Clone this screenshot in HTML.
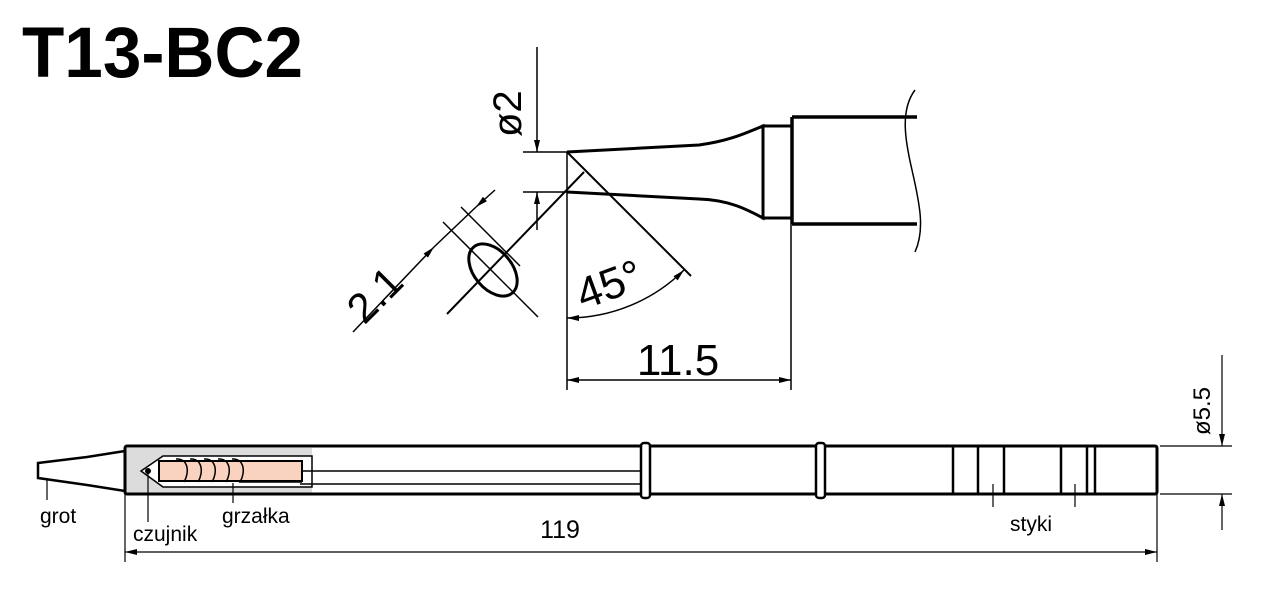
<!DOCTYPE html>
<html><head><meta charset="utf-8"><style>
html,body{margin:0;padding:0;background:#fff;}
svg{display:block;font-family:"Liberation Sans",Arial,sans-serif;}
</style></head><body>
<svg width="1266" height="600" viewBox="0 0 1266 600" xmlns="http://www.w3.org/2000/svg">
<defs>
<marker id="a" viewBox="0 0 12 6" refX="12" refY="3" markerWidth="12" markerHeight="6" markerUnits="userSpaceOnUse" orient="auto-start-reverse"><path d="M0,0 L12,3 L0,6 z" fill="#000"/></marker>
</defs>
<text x="22" y="77" font-size="71" font-weight="bold" textLength="281" lengthAdjust="spacingAndGlyphs">T13-BC2</text>

<g stroke="#000" fill="none">
<path d="M567,152 L699,145 C730,141 748,132 763,126 L763,218 C748,210 730,200 699,199 L567,192" stroke-width="3"/>
<rect x="763" y="126" width="29" height="92" stroke-width="3"/>
<path d="M792,117 L917,117 M792,224 L917,224 M792,117 L792,224" stroke-width="3.5"/>
<path d="M915,90 C900,110 905,140 912,170 C920,205 925,230 915,252" stroke-width="1.5"/>
<line x1="537" y1="47" x2="537" y2="152" stroke-width="1.5" marker-end="url(#a)"/>
<line x1="537" y1="230" x2="537" y2="192" stroke-width="1.5" marker-end="url(#a)"/>
<line x1="523" y1="152" x2="567" y2="152" stroke-width="1.5"/>
<line x1="523" y1="192" x2="567" y2="192" stroke-width="1.5"/>
<line x1="567" y1="152" x2="691" y2="276" stroke-width="2"/>
<line x1="584" y1="172" x2="447" y2="314" stroke-width="2"/>
<line x1="567" y1="152" x2="567" y2="390" stroke-width="1.5"/>
<path d="M567,318 A166,166 0 0 0 684,270" stroke-width="1.5" marker-start="url(#a)" marker-end="url(#a)"/>
<ellipse cx="493" cy="270" rx="30" ry="19" transform="rotate(50 493 270)" stroke-width="3"/>
<line x1="443" y1="222" x2="538" y2="317" stroke-width="1.5"/>
<line x1="461" y1="207" x2="520" y2="266" stroke-width="1.5"/>
<line x1="353" y1="332" x2="434" y2="247" stroke-width="1.5" marker-end="url(#a)"/>
<line x1="495" y1="190" x2="476" y2="207" stroke-width="1.5" marker-end="url(#a)"/>
<line x1="434" y1="247" x2="476" y2="207" stroke-width="1.5"/>
<line x1="791" y1="224" x2="791" y2="390" stroke-width="1.5"/>
<line x1="567" y1="380" x2="791" y2="380" stroke-width="1.5" marker-start="url(#a)" marker-end="url(#a)"/>
</g>
<text x="678" y="375" font-size="44" text-anchor="middle">11.5</text>
<text transform="translate(583,310) rotate(-20)" font-size="44">45°</text>
<text transform="translate(521,137) rotate(-90)" font-size="40">ø2</text>
<text transform="translate(385,305) rotate(-45)" font-size="42" text-anchor="middle">2.1</text>

<path d="M125,451 L87,457 L38,463 L38,478 L87,485 L125,491" fill="none" stroke="#000" stroke-width="2.5"/>
<rect x="126" y="448" width="186" height="45" fill="#dcdcdc"/>
<path d="M141,471 L163,456 L312,456 L312,487 L163,487 Z" fill="#fff" stroke="#000" stroke-width="1.5"/>
<line x1="300" y1="471" x2="642" y2="471" stroke="#000" stroke-width="1.5"/>
<line x1="300" y1="484" x2="642" y2="484" stroke="#000" stroke-width="1.5"/>
<rect x="159" y="461" width="143" height="20" fill="#f9d3bf" stroke="#000" stroke-width="2"/>
<g fill="none" stroke="#000" stroke-width="1.5">
<path d="M176,459 C188,458 190,472 184,482"/>
<path d="M190,459 C202,458 204,472 198,482"/>
<path d="M204,459 C216,458 218,472 212,482"/>
<path d="M218,459 C230,458 232,472 226,482"/>
<path d="M232,459 C244,458 246,472 240,482 L302,482"/>
</g>
<circle cx="148" cy="471" r="3" fill="#000"/>
<rect x="125" y="446" width="1032" height="48" rx="2" fill="none" stroke="#000" stroke-width="3"/>
<rect x="641" y="443" width="9" height="55" rx="3" fill="#fff" stroke="#000" stroke-width="2.5"/>
<rect x="816" y="443" width="9" height="55" rx="3" fill="#fff" stroke="#000" stroke-width="2.5"/>
<g stroke="#000" stroke-width="2.5">
<line x1="953" y1="446" x2="953" y2="494"/><line x1="978" y1="446" x2="978" y2="494"/>
<line x1="1004" y1="446" x2="1004" y2="494"/><line x1="1061" y1="446" x2="1061" y2="494"/>
<line x1="1087" y1="446" x2="1087" y2="494"/><line x1="1095" y1="446" x2="1095" y2="494"/>
</g>
<g stroke="#000" stroke-width="1.2">
<line x1="993" y1="484" x2="993" y2="507"/><line x1="1075" y1="484" x2="1075" y2="507"/>
<line x1="47" y1="478" x2="47" y2="500"/><line x1="148" y1="472" x2="148" y2="522"/>
<line x1="233" y1="483" x2="233" y2="503"/>
<line x1="125" y1="494" x2="125" y2="562"/><line x1="1157" y1="494" x2="1157" y2="562"/>
<line x1="1160" y1="446" x2="1232" y2="446"/><line x1="1160" y1="494" x2="1232" y2="494"/>
<line x1="1222" y1="355" x2="1222" y2="446" marker-end="url(#a)"/>
<line x1="1222" y1="530" x2="1222" y2="494" marker-end="url(#a)"/>
<line x1="125" y1="552" x2="1157" y2="552" marker-start="url(#a)" marker-end="url(#a)"/>
</g>
<g font-size="21">
<text x="40" y="523">grot</text>
<text x="133" y="541">czujnik</text>
<text x="222" y="523">grzałka</text>
<text x="1010" y="531">styki</text>
<text x="560" y="538" font-size="25" text-anchor="middle">119</text>
<text transform="translate(1210,435) rotate(-90)" font-size="24">ø5.5</text>
</g>
</svg>
</body></html>
